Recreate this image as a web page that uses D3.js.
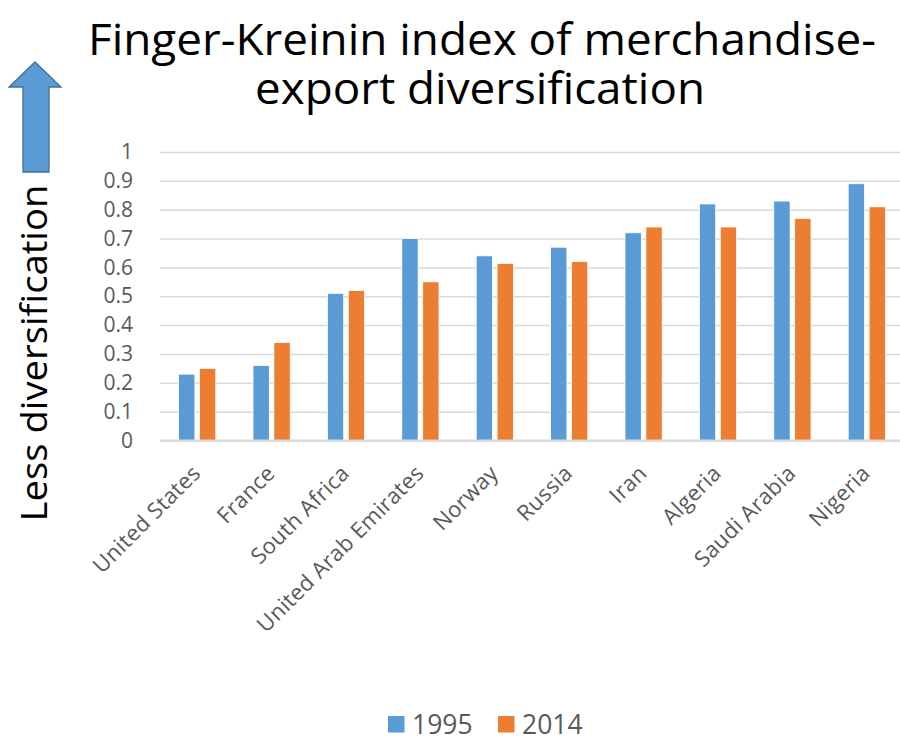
<!DOCTYPE html>
<html>
<head>
<meta charset="utf-8">
<script src="https://cdn.jsdelivr.net/npm/d3@7"></script>
<style>
  body { margin: 0; background: #fff; }
  text { font-family: "Open Sans", sans-serif; }
</style>
</head>
<body>
<div class="barChart"></div>
<script>
// Chart data
var countries = ["United States", "France", "South Africa", "United Arab Emirates", "Norway",
                 "Russia", "Iran", "Algeria", "Saudi Arabia", "Nigeria"];
var years = ["1995", "2014"];
var values1995 = [0.23, 0.26, 0.51, 0.70, 0.64, 0.67, 0.72, 0.82, 0.83, 0.89];
var values2014 = [0.25, 0.34, 0.52, 0.55, 0.614, 0.62, 0.74, 0.74, 0.77, 0.81];
var yTicks = [0, 0.1, 0.2, 0.3, 0.4, 0.5, 0.6, 0.7, 0.8, 0.9, 1];

var colors = {"1995": "#5b9bd5", "2014": "#ed7d31"};
var width = 900, height = 737;

var rows = countries.map(function(c, i) {
    return {country: c, "1995": values1995[i], "2014": values2014[i]};
});

var svg = d3.select(".barChart")
    .append("svg")
    .attr("width", width)
    .attr("height", height);

// Title
var title = svg.append("text")
    .attr("text-anchor", "middle")
    .attr("font-size", 43)
    .attr("fill", "#000");
title.append("tspan").attr("x", 482).attr("y", 55)
    .attr("textLength", 788).attr("lengthAdjust", "spacingAndGlyphs")
    .text("Finger-Kreinin index of merchandise-");
title.append("tspan").attr("x", 480).attr("y", 104)
    .attr("textLength", 450).attr("lengthAdjust", "spacingAndGlyphs")
    .text("export diversification");

// Arrow on the left
svg.append("path")
    .attr("d", d3.line()([[23, 172], [23, 87], [9, 87], [35, 62], [61, 87], [49, 87], [49, 172]]) + "Z")
    .attr("fill", "#5b9bd5")
    .attr("stroke", "#41719c")
    .attr("stroke-width", 1.3);

// Left label
svg.append("text")
    .attr("transform", "translate(47,353)rotate(-90)")
    .attr("text-anchor", "middle")
    .attr("font-size", 37)
    .attr("textLength", 337).attr("lengthAdjust", "spacingAndGlyphs")
    .attr("fill", "#000")
    .text("Less diversification");

// Scales
var x0 = d3.scaleBand()
    .domain(countries)
    .range([160, 904]);

var x1 = d3.scaleBand()
    .domain(years)
    .range([-x0.bandwidth() * 0.25, x0.bandwidth() * 0.25])
    .paddingInner(0.22);

var y = d3.scaleLinear()
    .domain([0, 1])
    .range([440.5, 152]);

// Gridlines
svg.append("g")
    .attr("class", "grid")
    .attr("transform", "translate(160,0)")
    .call(d3.axisLeft(y).tickValues(yTicks).tickSize(-740).tickFormat(""))
    .call(function(g) {
        g.select(".domain").remove();
        g.selectAll("line").attr("stroke", "#d9d9d9").attr("stroke-width", 1.5);
    });

// Y axis labels
svg.append("g")
    .attr("transform", "translate(160,0)")
    .call(d3.axisLeft(y).tickValues(yTicks).tickSize(0).tickPadding(27).tickFormat(d3.format("")))
    .call(function(g) {
        g.select(".domain").remove();
        g.selectAll("text")
            .attr("font-family", "'Open Sans', sans-serif")
            .attr("font-size", 21)
            .attr("fill", "#595959");
    });

// Bars
var groups = svg.append("g").selectAll("g")
    .data(rows)
    .enter()
    .append("g")
    .attr("transform", function(d) { return "translate(" + (x0(d.country) + x0.bandwidth() / 2) + ",0)"; });

groups.selectAll("rect")
    .data(function(d) { return years.map(function(k) { return {key: k, value: d[k]}; }); })
    .enter()
    .append("rect")
    .attr("x", function(d) { return x1(d.key); })
    .attr("y", function(d) { return y(d.value); })
    .attr("width", x1.bandwidth())
    .attr("height", function(d) { return y(0) - y(d.value); })
    .attr("fill", function(d) { return colors[d.key]; })
    .attr("stroke", "#fff")
    .attr("stroke-width", 0.8);

// X axis baseline
svg.append("line")
    .attr("x1", 160).attr("x2", 900)
    .attr("y1", y(0)).attr("y2", y(0))
    .attr("stroke", "#d9d9d9")
    .attr("stroke-width", 1.8);

// X axis labels (rotated)
svg.append("g")
    .selectAll("text")
    .data(countries)
    .enter()
    .append("text")
    .attr("transform", function(d) {
        return "translate(" + (x0(d) + x0.bandwidth() / 2) + ",470)rotate(-45)";
    })
    .attr("text-anchor", "end")
    .attr("dy", "0.3em")
    .attr("font-size", 22)
    .attr("letter-spacing", 0.3)
    .attr("fill", "#595959")
    .text(function(d) { return d; });

// Legend
var legend = svg.append("g").selectAll("g")
    .data(years)
    .enter()
    .append("g")
    .attr("transform", function(d, i) { return "translate(" + (388 + i * 110) + ",716)"; });
legend.append("rect")
    .attr("width", 16.5).attr("height", 16.5)
    .attr("fill", function(d) { return colors[d]; });
legend.append("text")
    .attr("x", 24).attr("y", 17.5)
    .attr("font-size", 26.5)
    .attr("fill", "#595959")
    .text(function(d) { return d; });
</script>
</body>
</html>
